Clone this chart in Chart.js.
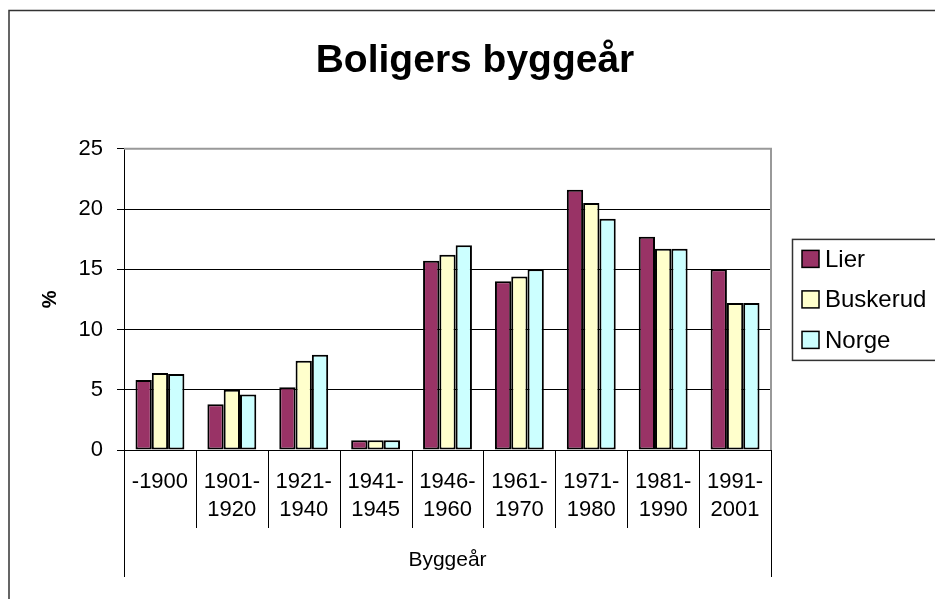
<!DOCTYPE html>
<html>
<head>
<meta charset="utf-8">
<script src="https://cdn.jsdelivr.net/npm/chart.js@4.4.1/dist/chart.umd.min.js"></script>
<style>
  html, body { margin: 0; padding: 0; background: #fff; }
</style>
</head>
<body>
<canvas id="chart" width="935" height="599"></canvas>
<script>
// Values (%)
const periods = [['-1900'], ['1901-', '1920'], ['1921-', '1940'], ['1941-', '1945'], ['1946-', '1960'],
                 ['1961-', '1970'], ['1971-', '1980'], ['1981-', '1990'], ['1991-', '2001']];
const lier     = [5.8, 3.8, 5.2, 0.8, 15.7, 14.0, 21.6, 17.7, 15.0];
const buskerud = [6.4, 5.0, 7.4, 0.8, 16.2, 14.4, 20.5, 16.7, 12.2];
const norge    = [6.3, 4.6, 7.9, 0.8, 17.0, 15.0, 19.2, 16.7, 12.2];
const yTicks   = [0, 5, 10, 15, 20, 25];

const FONT = "'Liberation Sans', Arial, sans-serif";
Chart.defaults.font.family = FONT;
Chart.defaults.color = '#000';

// outer chart border, plot frame and the category separator lines
const frame = {
    id: 'frame',
    beforeDraw(chart) {
        const ctx = chart.ctx;
        ctx.save();
        ctx.strokeStyle = '#333';
        ctx.lineWidth = 1.5;
        ctx.beginPath();
        ctx.moveTo(9, chart.height);
        ctx.lineTo(9, 10.5);
        ctx.lineTo(chart.width, 10.5);
        ctx.stroke();
        ctx.restore();
    },
    afterDraw(chart) {
        const { ctx, chartArea: a } = chart;
        ctx.save();
        ctx.strokeStyle = '#999';
        ctx.lineWidth = 2;
        ctx.beginPath();
        ctx.moveTo(a.left, a.top);
        ctx.lineTo(a.right, a.top);
        ctx.lineTo(a.right, a.bottom);
        ctx.stroke();

        ctx.strokeStyle = '#000';
        ctx.lineWidth = 1;
        const n = periods.length;
        const w = (a.right - a.left) / n;
        for (let i = 0; i <= n; i++) {
            const px = Math.round(a.left + i * w) + 0.5;
            const end = (i === 0 || i === n) ? 577 : 528;
            ctx.beginPath();
            ctx.moveTo(px, a.bottom);
            ctx.lineTo(px, end);
            ctx.stroke();
        }
        ctx.restore();
    }
};

// legend in its own layout box on the right, with a border like the original
const sideLegend = {
    id: 'sideLegend',
    beforeInit(chart) {
        const box = {
            position: 'right', weight: 1000, fullSize: false, options: {},
            width: 0, height: 0,
            isHorizontal() { return false; },
            update(maxWidth, maxHeight) { this.width = 164; this.height = maxHeight; },
            draw() {
                const ctx = chart.ctx;
                const mid = (this.top + this.bottom) / 2;
                ctx.save();
                ctx.strokeStyle = '#333';
                ctx.lineWidth = 1.5;
                ctx.strokeRect(this.left + 21.5, mid - 60, 300, 121);
                ctx.font = '24px ' + FONT;
                ctx.textBaseline = 'middle';
                chart.data.datasets.forEach((ds, i) => {
                    const y = mid + (i - 1) * 40.5;
                    ctx.fillStyle = ds.backgroundColor;
                    ctx.fillRect(this.left + 31, y - 8.5, 17, 17);
                    ctx.strokeStyle = '#000';
                    ctx.lineWidth = 1.5;
                    ctx.strokeRect(this.left + 31, y - 8.5, 17, 17);
                    ctx.fillStyle = '#000';
                    ctx.fillText(ds.label, this.left + 54, y + 1);
                });
                ctx.restore();
            }
        };
        Chart.layouts.addBox(chart, box);
    }
};

const barStyle = { borderColor: '#000', borderWidth: 2, borderSkipped: false,
                   categoryPercentage: 0.68, barPercentage: 1 };

new Chart(document.getElementById('chart'), {
    type: 'bar',
    data: {
        labels: periods,
        datasets: [
            { label: 'Lier', data: lier, backgroundColor: '#993366', ...barStyle },
            { label: 'Buskerud', data: buskerud, backgroundColor: '#FFFFCC', ...barStyle },
            { label: 'Norge', data: norge, backgroundColor: '#CCFFFF', ...barStyle }
        ]
    },
    options: {
        responsive: false,
        animation: false,
        layout: { padding: { left: 15, right: 0, top: 0, bottom: 0 } },
        plugins: {
            legend: { display: false },
            tooltip: { enabled: false },
            title: {
                display: true,
                text: 'Boligers byggeår',
                color: '#000',
                font: { size: 39, weight: 'bold' },
                padding: { top: 38, bottom: 64 }
            }
        },
        scales: {
            x: {
                grid: { display: false },
                border: { display: true, color: '#000', width: 1 },
                ticks: { font: { size: 22, lineHeight: 1.27 }, padding: 10, autoSkip: false, maxRotation: 0 },
                title: { display: true, text: 'Byggeår', font: { size: 21 }, padding: { top: 0, bottom: 26 } },
                afterFit(scale) { scale.height = 149; }
            },
            y: {
                min: yTicks[0],
                max: yTicks[yTicks.length - 1],
                afterBuildTicks(scale) { scale.ticks = yTicks.map(v => ({ value: v })); },
                grid: { color: '#000', tickColor: '#000', tickLength: 7, lineWidth: 1 },
                border: { display: true, color: '#000', width: 1 },
                ticks: { font: { size: 22 }, padding: 14 },
                title: { display: true, text: '%', font: { size: 20, weight: 'bold' }, padding: { top: 23, bottom: 0 } },
                afterFit(scale) { scale.width = 109; }
            }
        }
    },
    plugins: [frame, sideLegend]
});
</script>
</body>
</html>
